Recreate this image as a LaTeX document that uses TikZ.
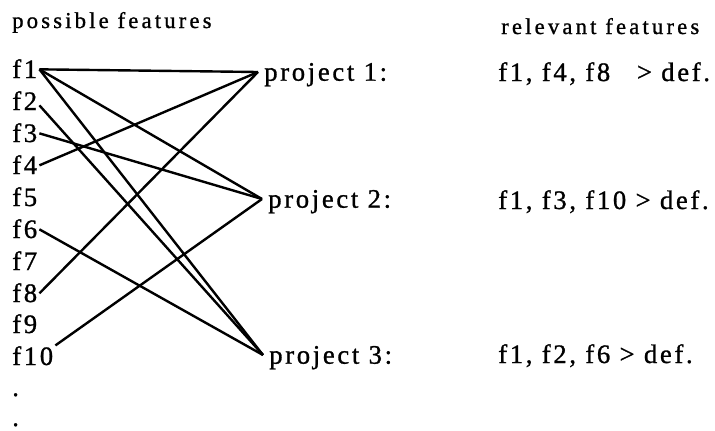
\documentclass[tikz,border=0pt]{standalone}
\usepackage{fontspec}
\setmainfont{Liberation Serif}
\newfontfamily\itemfont[LetterSpace=10, FakeBold=1]{Liberation Serif}
\newfontfamily\headfont[LetterSpace=14, FakeBold=1]{Liberation Serif}
\usepackage{tikz}

\begin{document}
\begin{tikzpicture}[
        x=0.75pt, y=-0.75pt,
        head/.style={font=\headfont\fontsize{17}{19}\selectfont, inner sep=0pt, anchor=base west},
        feat/.style={font=\itemfont\fontsize{20}{23}\selectfont, inner sep=1.5pt, text height=13pt, text depth=0pt, anchor=base west},
        proj/.style={feat, anchor=west, inner xsep=4.5pt},
        rel/.style={feat, inner sep=0pt},
        link/.style={line width=1.8pt}
    ]
        \useasboundingbox (0,0) rectangle (715,430);

        \node[head] (hpos) at (12,28) {possible features};
        \node[head] (hrel) at (501,34) {relevant features};

        \node[feat] (f1) at (10,78) {f1};
        \node[feat] (f2) at (10,110) {f2};
        \node[feat] (f3) at (10,142) {f3};
        \node[feat] (f4) at (10,174) {f4};
        \node[feat] (f5) at (10,206) {f5};
        \node[feat] (f6) at (10,238) {f6};
        \node[feat] (f7) at (10,270) {f7};
        \node[feat] (f8) at (10,302) {f8};
        \node[feat] (f9) at (10,333) {f9};
        \node[feat] (f10) at (10,365) {f10};
        \node[feat] (dot1) at (10,396) {.};
        \node[feat] (dot2) at (10,426) {.};

        \node[proj] (p1) at (258,72) {project 1:};
        \node[proj] (p2) at (262,199) {project 2:};
        \node[proj] (p3) at (263,355) {project 3:};

        \node[rel] (r1) at (498,81) {f1, f4, f8\quad> def.};
        \node[rel] (r2) at (498,209) {f1, f3, f10 > def.};
        \node[rel] (r3) at (498,363) {f1, f2, f6 > def.};

        \draw[link] (f1.east) -- (p1.west);
        \draw[link] (f4.east) -- (p1.west);
        \draw[link] (f8.east) -- (p1.west);
        \draw[link] (f1.east) -- (p2.west);
        \draw[link] (f3.east) -- (p2.west);
        \draw[link] (f10.north east) -- (p2.west);
        \draw[link] (f1.east) -- (p3.west);
        \draw[link] ([yshift=-3pt]f2.east) -- (p3.west);
        \draw[link] (f6.east) -- (p3.west);
    \end{tikzpicture}
\end{document}
